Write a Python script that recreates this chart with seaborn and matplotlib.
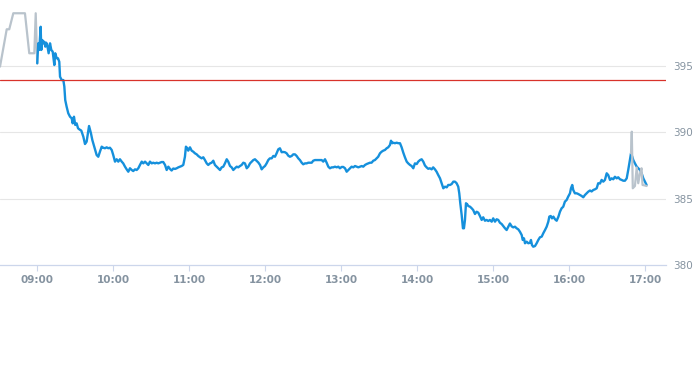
import matplotlib
matplotlib.use("Agg")
import matplotlib.pyplot as plt
import seaborn as sns
import pandas as pd

# time in minutes since midnight, price
pre_points = [(510.8, 394.97), (516.1, 397.79), (518.1, 397.79), (521.3, 399.0), (530.5, 399.0),
              (533.9, 395.98), (537.9, 395.98), (539.0, 399.0), (540.2, 395.22)]

blue_points = [
    (540.2, 395.22), (541.0, 396.73), (541.8, 396.23), (542.9, 397.98), (543.4, 396.23), (544.2, 396.98),
    (545.0, 396.73), (545.8, 396.85), (546.6, 396.48), (547.3, 396.78), (548.1, 396.60), (549.2, 395.98),
    (550.3, 396.73), (551.3, 396.23), (552.4, 396.10), (553.7, 395.09), (554.4, 395.98), (555.6, 395.60),
    (556.6, 395.60), (557.6, 395.34), (558.2, 394.21), (559.5, 393.96), (560.8, 393.96), (561.6, 393.46),
    (562.3, 392.45), (563.4, 391.95), (564.7, 391.45), (566.1, 391.19), (567.4, 391.07), (568.2, 390.69),
    (569.2, 391.19), (570.2, 390.57), (571.3, 390.69), (572.4, 390.32), (573.4, 390.24), (575.0, 390.14),
    (576.6, 389.68), (577.9, 389.13), (579.2, 389.31), (581.1, 390.49), (582.6, 389.94), (583.7, 389.43),
    (585.2, 388.93), (587.1, 388.30), (588.4, 388.17), (589.7, 388.55), (591.1, 388.93), (592.3, 388.85),
    (593.7, 388.81), (595.0, 388.88), (596.3, 388.81), (597.6, 388.85), (599.0, 388.68), (600.2, 388.30),
    (601.6, 387.80), (602.9, 387.98), (604.2, 387.80), (605.5, 387.98), (606.9, 387.80), (608.1, 387.67),
    (609.5, 387.42), (610.8, 387.22), (612.1, 387.04), (613.4, 387.30), (614.8, 387.17), (616.0, 387.09),
    (617.4, 387.22), (618.7, 387.17), (620.0, 387.30), (621.3, 387.55), (622.7, 387.80), (623.9, 387.67),
    (625.3, 387.80), (626.6, 387.67), (627.9, 387.55), (629.2, 387.80), (630.6, 387.67), (631.8, 387.72),
    (633.2, 387.67), (634.5, 387.72), (635.8, 387.67), (637.1, 387.72), (638.4, 387.77), (639.7, 387.77),
    (641.1, 387.55), (642.4, 387.17), (643.7, 387.42), (645.0, 387.25), (646.3, 387.13), (647.6, 387.28),
    (649.0, 387.25), (650.3, 387.30), (651.6, 387.37), (652.9, 387.42), (654.2, 387.47), (655.5, 387.55),
    (656.8, 388.17), (657.6, 388.93), (658.7, 388.81), (659.4, 388.63), (660.8, 388.88), (662.1, 388.63),
    (663.4, 388.55), (664.7, 388.43), (666.1, 388.35), (667.3, 388.23), (668.7, 388.13), (670.0, 388.05),
    (671.3, 388.13), (672.6, 387.92), (674.0, 387.67), (675.2, 387.55), (676.6, 387.67), (677.9, 387.72),
    (679.2, 387.87), (680.5, 387.55), (681.9, 387.42), (683.1, 387.30), (684.5, 387.17), (685.8, 387.37),
    (687.1, 387.42), (688.4, 387.67), (689.8, 387.98), (691.0, 387.80), (692.4, 387.47), (693.7, 387.37),
    (695.0, 387.17), (696.3, 387.30), (697.7, 387.42), (698.9, 387.37), (700.3, 387.47), (701.6, 387.55),
    (702.9, 387.72), (704.2, 387.67), (705.6, 387.30), (706.8, 387.42), (708.2, 387.67), (709.5, 387.80),
    (710.8, 387.92), (712.1, 387.98), (713.5, 387.85), (714.7, 387.74), (716.1, 387.55), (717.4, 387.22),
    (718.7, 387.37), (720.0, 387.47), (721.3, 387.67), (722.6, 387.92), (723.9, 388.05), (725.3, 388.05),
    (726.6, 388.23), (727.9, 388.17), (729.2, 388.43), (730.5, 388.73), (731.8, 388.81), (733.2, 388.51),
    (734.4, 388.53), (735.8, 388.51), (737.1, 388.43), (738.4, 388.25), (739.7, 388.17), (741.1, 388.23),
    (742.3, 388.35), (743.7, 388.35), (745.0, 388.23), (746.3, 388.05), (747.6, 387.92), (749.0, 387.72),
    (750.2, 387.60), (751.6, 387.67), (752.9, 387.67), (754.2, 387.72), (755.5, 387.72), (756.9, 387.72),
    (758.1, 387.87), (759.5, 387.92), (760.8, 387.92), (762.1, 387.92), (763.4, 387.92), (764.8, 387.92),
    (766.0, 387.80), (767.4, 387.98), (768.7, 387.72), (770.0, 387.42), (771.3, 387.30), (772.7, 387.37),
    (773.9, 387.37), (775.3, 387.42), (776.6, 387.37), (777.9, 387.42), (779.2, 387.30), (780.6, 387.40),
    (781.8, 387.40), (783.2, 387.30), (784.5, 387.04), (785.8, 387.17), (787.1, 387.30), (788.4, 387.42),
    (789.7, 387.37), (791.1, 387.47), (792.4, 387.42), (793.7, 387.37), (795.0, 387.42), (796.4, 387.47),
    (797.6, 387.42), (799.0, 387.55), (800.3, 387.62), (801.6, 387.67), (802.9, 387.72), (804.2, 387.72),
    (805.5, 387.87), (806.8, 387.92), (808.2, 388.05), (809.4, 388.17), (810.8, 388.43), (812.1, 388.55),
    (813.4, 388.63), (814.7, 388.68), (816.1, 388.81), (817.3, 388.88), (818.7, 389.06), (819.5, 389.38),
    (820.5, 389.19), (821.3, 389.23), (822.6, 389.19), (824.0, 389.23), (825.2, 389.19), (826.6, 389.19),
    (827.9, 388.88), (829.2, 388.48), (830.5, 388.13), (831.9, 387.80), (833.1, 387.67), (834.5, 387.55),
    (835.8, 387.47), (837.1, 387.30), (838.4, 387.67), (839.8, 387.62), (841.0, 387.80), (842.4, 387.92),
    (843.7, 387.98), (845.0, 387.80), (846.3, 387.51), (847.7, 387.36), (848.9, 387.26), (850.2, 387.30),
    (851.6, 387.22), (852.8, 387.37), (854.2, 387.22), (855.5, 387.04), (856.8, 386.79), (858.2, 386.54),
    (859.5, 386.17), (860.8, 385.79), (862.1, 385.91), (863.5, 385.86), (864.7, 386.04), (866.1, 386.04),
    (867.4, 386.11), (868.7, 386.29), (870.0, 386.29), (871.3, 386.17), (872.6, 385.91), (873.4, 385.41),
    (874.2, 384.66), (875.3, 383.77), (876.3, 382.77), (877.1, 382.77), (877.9, 383.40), (878.7, 384.66),
    (879.7, 384.58), (880.5, 384.45), (881.9, 384.40), (883.2, 384.28), (884.4, 384.15), (885.8, 383.85),
    (887.1, 384.02), (888.4, 383.95), (889.7, 383.70), (891.1, 383.40), (892.3, 383.60), (893.7, 383.34),
    (895.0, 383.40), (896.3, 383.32), (897.6, 383.40), (899.0, 383.27), (900.2, 383.52), (901.6, 383.27),
    (902.9, 383.45), (904.2, 383.40), (905.5, 383.19), (906.9, 383.09), (908.1, 382.94), (909.5, 382.77),
    (910.8, 382.64), (912.1, 382.89), (913.4, 383.13), (914.8, 382.91), (916.0, 382.84), (917.4, 382.89),
    (918.7, 382.77), (920.0, 382.69), (921.3, 382.51), (922.7, 382.26), (923.5, 381.89), (924.5, 382.01),
    (925.3, 381.64), (926.6, 381.76), (927.9, 381.64), (929.3, 381.68), (930.0, 381.89), (930.8, 381.51),
    (931.8, 381.38), (933.2, 381.43), (934.5, 381.64), (935.8, 381.89), (937.1, 382.09), (938.5, 382.14),
    (939.7, 382.39), (941.1, 382.64), (942.4, 382.89), (943.7, 383.27), (944.5, 383.65), (945.6, 383.70),
    (946.6, 383.52), (947.7, 383.65), (949.0, 383.45), (950.3, 383.34), (951.7, 383.65), (952.9, 384.02),
    (954.2, 384.28), (955.5, 384.40), (956.8, 384.78), (958.2, 384.91), (959.4, 385.16), (960.8, 385.41),
    (961.6, 385.79), (962.6, 386.04), (963.4, 385.66), (964.7, 385.41), (966.1, 385.41), (967.3, 385.36),
    (968.7, 385.28), (970.0, 385.21), (971.3, 385.11), (972.6, 385.28), (974.0, 385.41), (975.2, 385.53),
    (976.6, 385.62), (977.9, 385.55), (979.2, 385.66), (980.5, 385.71), (981.9, 385.79), (983.1, 386.17),
    (984.5, 386.15), (985.8, 386.42), (987.1, 386.29), (988.4, 386.42), (989.8, 386.92), (991.0, 386.79),
    (992.4, 386.42), (993.7, 386.54), (995.0, 386.47), (996.3, 386.66), (997.7, 386.54), (998.9, 386.62),
    (1000.3, 386.47), (1001.6, 386.42), (1002.9, 386.36), (1004.2, 386.36), (1005.6, 386.54), (1006.8, 387.17),
    (1008.2, 387.98), (1009.0, 388.43), (1010.0, 388.17), (1010.8, 387.92), (1012.1, 387.67), (1013.5, 387.42),
    (1014.7, 387.30), (1016.1, 387.17), (1017.4, 386.92), (1018.7, 386.54), (1020.0, 386.29), (1021.3, 386.04),
]

post_points = [(1009.0, 388.43), (1009.6, 390.06), (1010.4, 385.79), (1012.1, 385.96), (1013.5, 387.36),
               (1014.7, 386.17), (1016.1, 386.92), (1017.3, 387.30), (1018.1, 386.04), (1020.0, 386.00),
               (1021.3, 385.96)]

reference_price = 393.97
y_ticks = [380, 385, 390, 395]
x_ticks = [540, 600, 660, 720, 780, 840, 900, 960, 1020]
x_labels = ["09:00", "10:00", "11:00", "12:00", "13:00", "14:00", "15:00", "16:00", "17:00"]

sns.set_theme(style="white")
plt.rcParams['font.family'] = ['DejaVu Sans']

fig = plt.figure(figsize=(6.93, 3.65), dpi=100)
ax = fig.add_axes([0.0, 0.274, 0.961, 0.726])

df_pre = pd.DataFrame(pre_points, columns=["t", "price"])
df_blue = pd.DataFrame(blue_points, columns=["t", "price"])
df_post = pd.DataFrame(post_points, columns=["t", "price"])

for yv in y_ticks[1:]:
    ax.axhline(yv, color="#e6e6e6", linewidth=0.8, zorder=0)

sns.lineplot(data=df_pre, x="t", y="price", ax=ax, color="#b9c3cc", linewidth=1.6,
             estimator=None, sort=False, zorder=2)
sns.lineplot(data=df_blue, x="t", y="price", ax=ax, color="#1590dc", linewidth=1.7,
             estimator=None, sort=False, zorder=3)
sns.lineplot(data=df_post, x="t", y="price", ax=ax, color="#b9c3cc", linewidth=1.6,
             estimator=None, sort=False, zorder=4)
ax.axhline(reference_price, color="#d8322a", linewidth=0.9, zorder=5)

ax.set_xlim(510.8, 1036.6)
ax.set_ylim(380, 400)
ax.set_xlabel("")
ax.set_ylabel("")

ax.set_xticks(x_ticks)
ax.set_xticklabels(x_labels)
ax.set_yticks(y_ticks)
ax.set_yticklabels([str(v) for v in y_ticks])
ax.yaxis.tick_right()

for s in ["top", "left", "right"]:
    ax.spines[s].set_visible(False)
ax.spines["bottom"].set_color("#ccd6eb")
ax.spines["bottom"].set_linewidth(0.9)

ax.tick_params(axis="x", direction="out", length=4, width=0.8, color="#ccd6eb",
               labelsize=7.5, labelcolor="#8593a0", pad=3, bottom=True)
for lab in ax.get_xticklabels():
    lab.set_fontweight("bold")
ax.tick_params(axis="y", length=0, labelsize=7.5, labelcolor="#8593a0", pad=5, right=False)

ax.set_facecolor("white")
fig.savefig("out.png", dpi=100, facecolor="white")
